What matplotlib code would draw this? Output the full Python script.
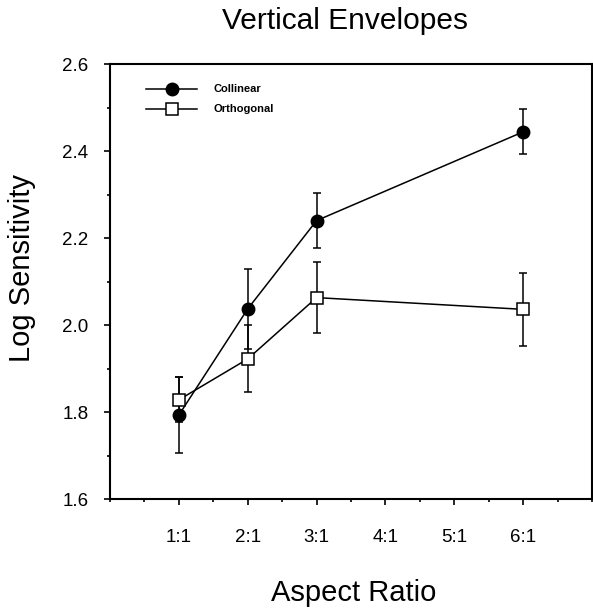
import matplotlib
matplotlib.use("Agg")
import matplotlib.pyplot as plt
from matplotlib.ticker import MultipleLocator

plt.rcParams['font.family'] = ['Liberation Sans', 'DejaVu Sans']

# Data
x_labels = ["1:1", "2:1", "3:1", "4:1", "5:1", "6:1"]
x_collinear = [1, 2, 3, 6]
y_collinear = [1.793, 2.037, 2.240, 2.444]
err_collinear = [0.088, 0.092, 0.063, 0.052]

x_orthogonal = [1, 2, 3, 6]
y_orthogonal = [1.828, 1.922, 2.063, 2.036]
err_orthogonal = [0.052, 0.077, 0.082, 0.084]

fig = plt.figure(figsize=(5.93, 6.09), dpi=100)
ax = fig.add_axes([0.1855, 0.1806, 0.8128, 0.7143])

lw = 1.1
# error bars
ax.errorbar(x_collinear, y_collinear, yerr=err_collinear, fmt='none',
            ecolor='black', elinewidth=lw, capsize=2.6, capthick=lw, zorder=2)
ax.errorbar(x_orthogonal, y_orthogonal, yerr=err_orthogonal, fmt='none',
            ecolor='black', elinewidth=lw, capsize=2.6, capthick=lw, zorder=2)
# lines + markers
ax.plot(x_collinear, y_collinear, color='black', marker='o', markersize=9,
        markerfacecolor='black', markeredgecolor='black', linewidth=lw,
        label='Collinear', zorder=3)
ax.plot(x_orthogonal, y_orthogonal, color='black', marker='s', markersize=8,
        markerfacecolor='white', markeredgecolor='black', markeredgewidth=1.1,
        linewidth=lw, label='Orthogonal', zorder=4)

ax.set_xlim(0, 7)
ax.set_ylim(1.6, 2.6)
ax.set_xticks(range(1, 7))
ax.set_xticklabels(x_labels)
ax.xaxis.set_minor_locator(MultipleLocator(0.5))
ax.set_yticks([1.6, 1.8, 2.0, 2.2, 2.4, 2.6])
ax.set_yticklabels(["1.6", "1.8", "2.0", "2.2", "2.4", "2.6"])
ax.yaxis.set_minor_locator(MultipleLocator(0.1))

for s in ax.spines.values():
    s.set_linewidth(1.5)

ax.tick_params(axis='both', which='major', direction='out', length=4.5,
               width=1.2, labelsize=13.5)
ax.tick_params(axis='both', which='minor', direction='out', length=2.5,
               width=1.2)
ax.tick_params(axis='x', which='major', pad=17)
ax.tick_params(axis='y', which='major', pad=11)

fig.text(345 / 593, 1 - 21 / 609, "Vertical Envelopes", ha='center',
         va='center', fontsize=21.5)
fig.text(22 / 593, 1 - 268 / 609, "Log Sensitivity", ha='center',
         va='center', rotation=90, fontsize=21)
fig.text(354 / 593, 1 - 593 / 609, "Aspect Ratio", ha='center',
         va='center', fontsize=21)

ax.legend(loc='upper left', bbox_to_anchor=(0.075, 0.953),
          frameon=False, borderpad=0, borderaxespad=0,
          handlelength=4.6, handletextpad=1.5, labelspacing=0.9,
          prop={'size': 8, 'weight': 'bold'}, numpoints=1)

fig.savefig("out.png", dpi=100)
